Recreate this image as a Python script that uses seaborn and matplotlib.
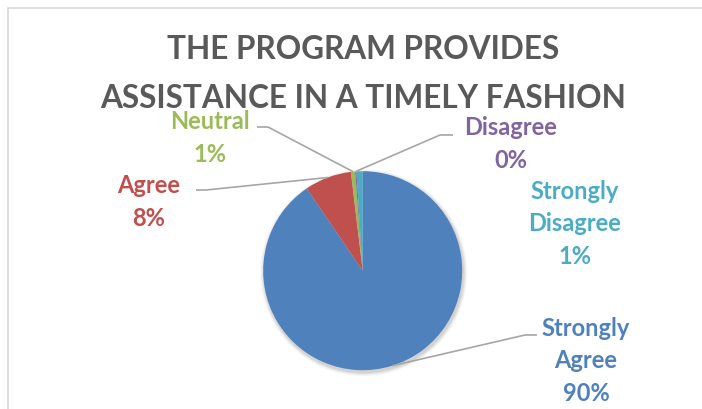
import numpy as np
import seaborn as sns
import matplotlib.pyplot as plt
from matplotlib.patches import Circle, Rectangle

# Survey answers (share of respondents, %)
labels = ['Strongly Agree', 'Agree', 'Neutral', 'Disagree', 'Strongly Disagree']
values = [90.5, 7.6, 0.7, 0.2, 1.0]
colors = ['#4F81BD', '#C0504D', '#9BBB59', '#8064A2', '#4BACC6']
title = 'THE PROGRAM PROVIDES\nASSISTANCE IN A TIMELY FASHION'

sns.set_theme(style='white')
plt.rcParams['font.family'] = ['Lato', 'DejaVu Sans']

W, H = 702, 410
fig = plt.figure(figsize=(W / 100, H / 100), dpi=100)
ax = fig.add_axes([0, 0, 1, 1])

# pie geometry in pixel coords (y up)
cx, cy, r = 362.7, H - 271.7, 99.5

# soft shadow behind the pie
for k, a in [(4, 0.03), (3, 0.04), (2, 0.05), (1, 0.06)]:
    ax.add_patch(Circle((cx + 1, cy - 2), r + k, color='black', alpha=a, lw=0, zorder=0))

wedges, _ = ax.pie(values, colors=sns.color_palette(colors), startangle=90, counterclock=False,
                   center=(cx, cy), radius=r, wedgeprops=dict(linewidth=0))

# chart frame
ax.add_patch(Rectangle((8, -20), 800, H - 9 + 20, fill=False, ec='#D9D9D9', lw=1.2))

ax.set_xlim(0, W)
ax.set_ylim(0, H)
ax.set_aspect('auto')
ax.axis('off')

ax.text(cx, H - 74, title, ha='center', va='center', fontsize=22.7, fontweight='bold',
        color='#595959', linespacing=1.8)

# label block centre, elbow of leader line, end of leader line (image px), None = no line
label_pos = {
    'Strongly Agree': ((586, 361), (525, 336), (537, 336)),
    'Agree': ((149, 202), (206, 191), (196, 191)),
    'Neutral': ((210, 138), (268, 128), (257, 128)),
    'Disagree': ((511, 144), (440, 136), (453, 136)),
    'Strongly Disagree': ((575, 224), None, None),
}

total = sum(values)
cum = 0
for lab, v, c in zip(labels, values, colors):
    mid = np.deg2rad((cum + v / 2) / total * 360)
    cum += v
    ax_x, ax_y = cx + r * np.sin(mid), cy + r * np.cos(mid)
    (tx, ty), elbow, end = label_pos[lab]
    if elbow is not None:
        ax.plot([ax_x, elbow[0], end[0]], [ax_y, H - elbow[1], H - end[1]],
                color='#A6A6A6', lw=1.2, solid_capstyle='butt', zorder=1)
    txt = lab.replace(' ', '\n') + '\n' + f'{round(v / total * 100):.0f}%'
    ax.text(tx, H - ty, txt, ha='center', va='center', fontsize=17, fontweight='bold',
            color=c, linespacing=1.5)

fig.savefig('out.png', dpi=100)
